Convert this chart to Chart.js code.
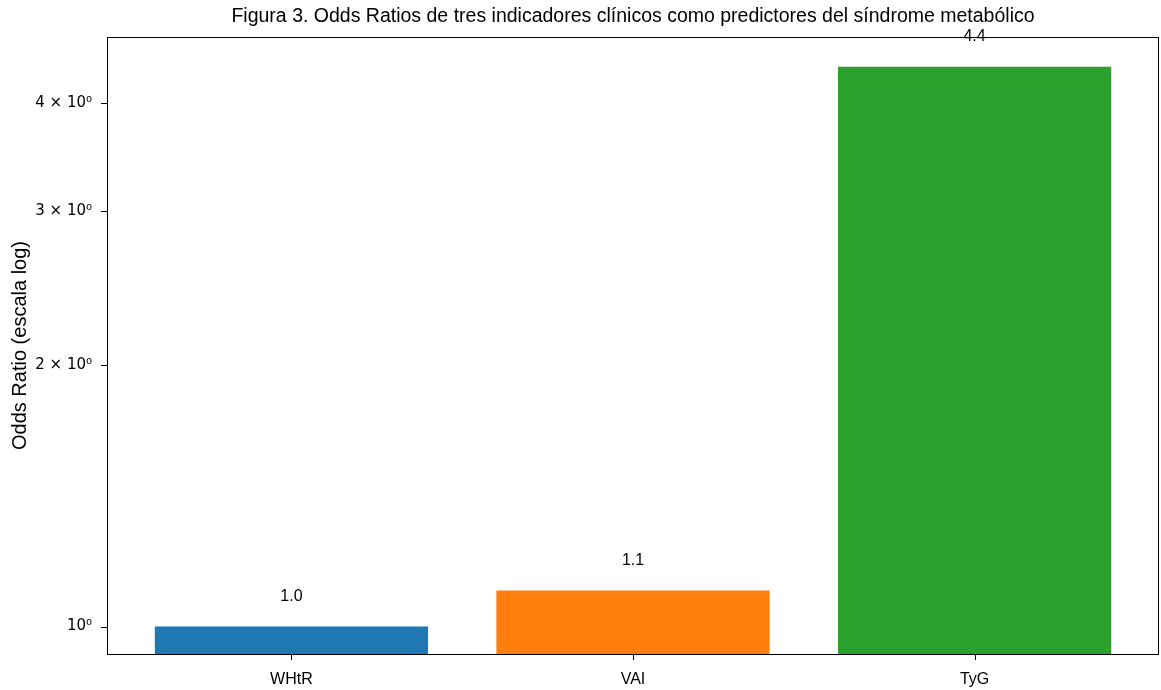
<!DOCTYPE html>
<html>
<head>
<meta charset="utf-8">
<script src="https://cdn.jsdelivr.net/npm/chart.js@4"></script>
<style>
  body { margin: 0; background: #fff; }
</style>
</head>
<body>
<canvas id="myChart" width="1161" height="690"></canvas>
<script>
// datos
const indicadores = ["WHtR", "VAI", "TyG"];
const oddsRatios = [1.0, 1.1, 4.4];
const colores = ["#1f77b4", "#ff7f0e", "#2ca02c"];
const yTicks = [1, 2, 3, 4];
const yTickLabels = ["10\u2070", "2 \u00d7 10\u2070", "3 \u00d7 10\u2070", "4 \u00d7 10\u2070"];
const titulo = "Figura 3. Odds Ratios de tres indicadores clínicos como predictores del síndrome metabólico";

const narrow = "'Liberation Sans Narrow', 'Liberation Sans', Arial, sans-serif";

// marco completo, marcas de los ejes y titulo centrado sobre el area
const marco = {
  id: "marco",
  afterDraw(chart) {
    const { ctx, chartArea } = chart;
    const xs = chart.scales.x;
    const ys = chart.scales.y;
    ctx.save();
    ctx.strokeStyle = "#000";
    ctx.lineWidth = 1;
    ctx.strokeRect(chartArea.left + 0.5, chartArea.top + 0.5,
      chartArea.right - chartArea.left - 1, chartArea.bottom - chartArea.top);
    ctx.beginPath();
    indicadores.forEach((c, i) => {
      const px = Math.round(xs.getPixelForValue(i)) + 0.5;
      ctx.moveTo(px, chartArea.bottom);
      ctx.lineTo(px, chartArea.bottom + 6);
    });
    yTicks.forEach((v) => {
      const py = Math.round(ys.getPixelForValue(v)) + 0.5;
      ctx.moveTo(chartArea.left, py);
      ctx.lineTo(chartArea.left - 6, py);
    });
    ctx.stroke();

    ctx.font = "19.5px " + narrow;
    ctx.fillStyle = "#000";
    ctx.textAlign = "center";
    ctx.textBaseline = "middle";
    ctx.fillText(titulo, (chartArea.left + chartArea.right) / 2, 17);
    ctx.restore();
  }
};

// etiquetas con el valor encima de cada barra
const etiquetas = {
  id: "etiquetas",
  afterDatasetsDraw(chart) {
    const ctx = chart.ctx;
    const meta = chart.getDatasetMeta(0);
    ctx.save();
    ctx.font = "16px " + narrow;
    ctx.fillStyle = "#000";
    ctx.textAlign = "center";
    ctx.textBaseline = "middle";
    meta.data.forEach((bar, i) => {
      ctx.fillText(oddsRatios[i].toFixed(1), bar.x, bar.y - 30);
    });
    ctx.restore();
  }
};

const ctx = document.getElementById("myChart");
new Chart(ctx, {
  type: "bar",
  data: {
    datasets: [
      {
        data: oddsRatios.map((v, i) => ({ x: i, y: v })),
        backgroundColor: colores,
        borderWidth: 0,
        categoryPercentage: 1,
        barPercentage: 0.8,
      },
    ],
  },
  plugins: [marco, etiquetas],
  options: {
    responsive: false,
    animation: false,
    layout: { padding: { left: 0, right: 2, top: 37, bottom: 0 } },
    plugins: {
      legend: { display: false },
      tooltip: { enabled: false },
      title: { display: false },
    },
    scales: {
      x: {
        type: "linear",
        offset: false,
        min: -0.54,
        max: 2.54,
        afterBuildTicks: (scale) => {
          scale.ticks = indicadores.map((c, i) => ({ value: i }));
        },
        afterFit: (scale) => { scale.height = 36; },
        grid: { display: false },
        border: { display: false },
        ticks: {
          color: "#000",
          font: { family: narrow, size: 16 },
          padding: 8,
          maxRotation: 0,
          callback: (v) => indicadores[v] || "",
        },
      },
      y: {
        type: "logarithmic",
        min: 0.93,
        max: 4.76,
        afterBuildTicks: (scale) => {
          scale.ticks = yTicks.map((v) => ({ value: v }));
        },
        afterFit: (scale) => { scale.width = 107; },
        grid: { display: false },
        border: { display: false },
        ticks: {
          color: "#000",
          font: { family: "'DejaVu Sans', sans-serif", size: 15 },
          padding: 7,
          callback: (v) => yTickLabels[yTicks.indexOf(v)] || "",
        },
        title: {
          display: true,
          text: "Odds Ratio (escala log)",
          color: "#000",
          font: { family: "'Liberation Sans', Arial, sans-serif", size: 20 },
          padding: { top: 8, bottom: 0 },
        },
      },
    },
  },
});
</script>
</body>
</html>
